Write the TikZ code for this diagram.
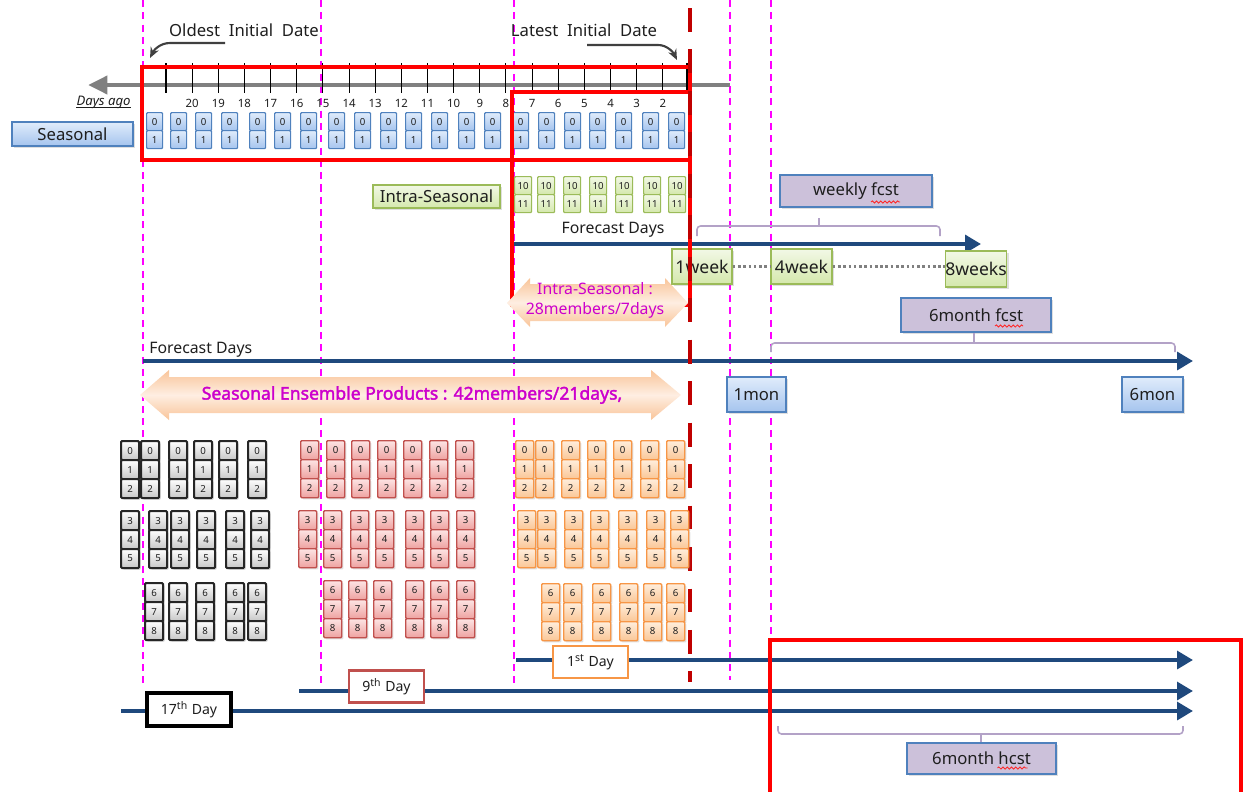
\documentclass[tikz,border=0pt]{standalone}
\usepackage{fontspec}
\setmainfont{Noto Sans}
\newfontfamily\ensfont{Noto Sans}[FakeBold=2]
\usetikzlibrary{arrows.meta,shadows,decorations.pathmorphing}
\definecolor{pinkdash}{RGB}{255,0,255}
\definecolor{drred}{RGB}{192,0,0}
\definecolor{fblue}{RGB}{31,73,125}
\definecolor{axgray}{RGB}{128,128,128}
\definecolor{bxblue}{RGB}{79,129,189}
\definecolor{btop}{RGB}{224,236,251}
\definecolor{bbot}{RGB}{165,196,238}
\definecolor{gborder}{RGB}{155,187,89}
\definecolor{gtop}{RGB}{242,248,230}
\definecolor{gbot}{RGB}{212,232,172}
\definecolor{lav}{RGB}{204,193,218}
\definecolor{brc}{RGB}{179,162,199}
\definecolor{peach}{RGB}{249,196,152}
\definecolor{peachl}{RGB}{254,238,226}
\definecolor{mag}{RGB}{204,0,204}
\definecolor{rcborder}{RGB}{192,80,77}
\definecolor{rctop}{RGB}{253,228,228}
\definecolor{rcbot}{RGB}{238,162,160}
\definecolor{ocborder}{RGB}{247,150,70}
\definecolor{octop}{RGB}{255,238,220}
\definecolor{ocbot}{RGB}{250,198,150}
\definecolor{txt}{RGB}{30,30,30}
\newlength{\px}\setlength{\px}{0.02cm}
\tikzset{
 lbl/.style={inner sep=0pt, text=txt, font=\fontsize{9.5}{11}\selectfont},
 shad/.style={drop shadow={opacity=0.25, shadow xshift=1pt, shadow yshift=-1pt}},
 bluebox/.style={lbl, draw=bxblue, line width=0.8pt, top color=btop, bottom color=bbot, shad},
 grnbox/.style={lbl, draw=gborder, line width=0.8pt, top color=gtop, bottom color=gbot, shad},
 lavbox/.style={lbl, draw=bxblue, line width=0.8pt, fill=lav, shad},
 daybox/.style={lbl, fill=white, line width=1.6pt, font=\fontsize{8}{9}\selectfont, minimum width=75\px, minimum height=32\px},
 cellbase/.style={inner sep=0pt, minimum width=18\px, minimum height=19\px, font=\fontsize{5.5}{6}\selectfont, text=txt, rounded corners=0.6pt},
 scell/.style={cellbase, minimum width=16\px, minimum height=18\px, draw=bxblue, line width=0.7pt, top color=btop, bottom color=bbot},
 icell/.style={cellbase, minimum width=17\px, minimum height=18\px, draw=gborder, line width=0.7pt, top color=gtop, bottom color=gbot},
 kcell/.style={cellbase, draw=black!85, line width=1.2pt, top color=white, bottom color=black!22, shad},
 rcell/.style={cellbase, draw=rcborder, line width=0.8pt, top color=rctop, bottom color=rcbot, shad},
 ocell/.style={cellbase, draw=ocborder, line width=0.8pt, top color=octop, bottom color=ocbot, shad},
 guide/.style={pinkdash, line width=0.8pt, dash pattern=on 4pt off 3pt},
 redbox/.style={red, line width=2.2pt},
 drdash/.style={drred, line width=2.3pt, dash pattern=on 13.6pt off 10pt},
 fcarrow/.style={fblue, line width=2.8pt, -{Triangle[length=9pt,width=10pt]}},
 axarrow/.style={axgray, line width=2.8pt, -{Triangle[length=11pt,width=10pt]}},
 brk/.style={brc, line width=0.9pt, rounded corners=2pt},
 tickln/.style={black, line width=0.6pt},
 dotln/.style={axgray, line width=2pt, dash pattern=on 1.5pt off 1.5pt},
 initarr/.style={black!75, line width=1.2pt, -{Stealth[length=6pt,width=5pt]}},
 arrtext/.style={inner sep=0pt, text=mag},
 wavy/.style={red!85, line width=0.5pt, decorate, decoration={snake, amplitude=0.6pt, segment length=2.4pt}},
}
\begin{document}
\begin{tikzpicture}[x=0.02cm,y=-0.02cm]
\useasboundingbox (0,0) rectangle (1246,791);
% guide lines
\draw[guide] (143,0) -- (143,683);
\draw[guide] (321,0) -- (321,683);
\draw[guide] (514,0) -- (514,683);
\draw[guide] (730,0) -- (730,680);
\draw[guide] (771,0) -- (771,640);
% axis
\coordinate (ax0) at (730,85);
\coordinate (ax1) at (88,85);
\draw[axarrow] (ax0) -- (ax1);
\foreach \k in {0,...,19}{
  \pgfmathsetmacro\tx{166+26.15*\k}
  \draw[tickln] (\tx,63) -- (\tx,93);
}
\foreach \k in {1,...,19}{
  \pgfmathsetmacro\tx{166+26.15*\k}
  \pgfmathtruncatemacro\lab{21-\k}
  \node[lbl, font=\fontsize{6.5}{7}\selectfont] (dn\k) at (\tx,103) {\lab};
}
\draw[black, line width=1.8pt] (688,63) -- (688,90);
\node[lbl, anchor=east, font=\itshape\fontsize{7.5}{8}\selectfont] (dago) at (131,102) {Days ago};
\draw[txt, line width=0.5pt] ([yshift=-1.2pt]dago.base west) -- ([yshift=-1.2pt]dago.base east);
% seasonal cells
\foreach \x [count=\i] in {146,170,195,221,249,274,300,328,354,380,405,431,458,484,512,538,564,589,615,642,668}{
  \node[scell, anchor=north west] (sz\i) at (\x,112) {0};
  \node[scell, anchor=north west] (so\i) at (\x,130) {1};
}
\node[bluebox, minimum width=121\px, minimum height=24\px] (seas) at (72.5,134) {Seasonal};
% intra cells
\foreach \x [count=\i] in {514,537,563,589,615,643,668}{
  \node[icell, anchor=north west] (iz\i) at (\x,176) {10};
  \node[icell, anchor=north west] (io\i) at (\x,194) {11};
}
\node[grnbox, minimum width=127\px, minimum height=23\px] (intra) at (436.5,196.5) {Intra-Seasonal};
\node[lbl, font=\fontsize{9}{10}\selectfont] (fd1) at (613,230) {Forecast Days};
\coordinate (ia0) at (512,244);
\coordinate (ia1) at (981,244);
\draw[fcarrow] (ia0) -- (ia1);
% weekly
\node[lavbox, minimum width=152\px, minimum height=32\px] (wk) at (856,191) {weekly fcst};
\draw[wavy] ([shift={(15,11)}]wk.center) -- ([shift={(44,11)}]wk.center);
\draw[brk] (697,236) |- (940,226) -- (940,236);
\draw[brk] (819,226) -- (819,218);
\node[grnbox, font=\fontsize{10}{11}\selectfont, minimum width=60\px, minimum height=35\px] (w1) at (702,266.5) {1week};
\node[grnbox, font=\fontsize{10}{11}\selectfont, minimum width=61\px, minimum height=35\px] (w4) at (801.5,266.5) {4week};
\node[grnbox, font=\fontsize{10}{11}\selectfont, minimum width=60\px, minimum height=36\px] (w8) at (976,269) {8weeks};
\draw[dotln] (w1.east) -- (w4.west);
\draw[dotln] (w4.east) -- (w8.west |- w4.east);
% 6 month fcst
\node[lavbox, minimum width=150\px, minimum height=34\px] (mf) at (976,315) {6month fcst};
\draw[wavy] ([shift={(19,11)}]mf.center) -- ([shift={(47,11)}]mf.center);
\draw[brk] (771,352) |- (1175,343) -- (1175,352);
\draw[brk] (974,343) -- (974,333);
\node[lbl, anchor=west, font=\fontsize{9}{10}\selectfont] (fd2) at (149,350) {Forecast Days};
\coordinate (sa0) at (143,361);
\coordinate (sa1) at (1193,361);
\draw[fcarrow] (sa0) -- (sa1);
\node[bluebox, minimum width=59\px, minimum height=35\px] (m1) at (756.5,394.5) {1mon};
\node[bluebox, minimum width=61\px, minimum height=35\px] (m6) at (1152.5,394.5) {6mon};
% red boxes
\draw[redbox] (142,67) rectangle (690,160);
\draw[redbox] (512,92) rectangle (690,305);
% peach arrows
\shade[top color=peach, bottom color=peach, middle color=peachl] (140,395) -- (169,370) -- (169,377) -- (651,377) -- (651,370) -- (681,395) -- (651,420) -- (651,413) -- (169,413) -- (169,420) -- cycle;
\node[arrtext, font=\ensfont\fontsize{10}{12}\selectfont] (ens) at (412,395) {Seasonal Ensemble Products : 42members/21days,};
\shade[top color=peach, bottom color=peach, middle color=peachl] (507,303) -- (530,278) -- (530,284) -- (665,284) -- (665,278) -- (688,303) -- (665,327) -- (665,321) -- (530,321) -- (530,327) -- cycle;
\node[arrtext, align=center, font=\fontsize{9}{11.5}\selectfont] (ins) at (595,300) {Intra-Seasonal :\\28members/7days};
% dark red dashed line
\draw[drdash] (690,8) -- (690,682);
% bottom cells: gray
\foreach \x [count=\i] in {120,140,168,193,218,247}{
  \node[kcell, anchor=north west] (ka\i) at (\x,440) {0};
  \node[kcell, anchor=north west] (kb\i) at (\x,459) {1};
  \node[kcell, anchor=north west] (kc\i) at (\x,478) {2};
}
\foreach \x [count=\i] in {120,148,170,196,225,250}{
  \node[kcell, anchor=north west] (kd\i) at (\x,510) {3};
  \node[kcell, anchor=north west] (ke\i) at (\x,529) {4};
  \node[kcell, anchor=north west] (kf\i) at (\x,548) {5};
}
\foreach \x [count=\i] in {144,168,195,225,247}{
  \node[kcell, anchor=north west] (kg\i) at (\x,582) {6};
  \node[kcell, anchor=north west] (kh\i) at (\x,601) {7};
  \node[kcell, anchor=north west] (ki\i) at (\x,620) {8};
}
% red cells
\foreach \x [count=\i] in {300,326,351,377,403,429,455}{
  \node[rcell, anchor=north west] (ra\i) at (\x,440) {0};
  \node[rcell, anchor=north west] (rb\i) at (\x,459) {1};
  \node[rcell, anchor=north west] (rc\i) at (\x,478) {2};
}
\foreach \x [count=\i] in {298,323,350,375,405,430,456}{
  \node[rcell, anchor=north west] (rd\i) at (\x,510) {3};
  \node[rcell, anchor=north west] (re\i) at (\x,529) {4};
  \node[rcell, anchor=north west] (rf\i) at (\x,548) {5};
}
\foreach \x [count=\i] in {323,348,373,405,430,456}{
  \node[rcell, anchor=north west] (rg\i) at (\x,580) {6};
  \node[rcell, anchor=north west] (rh\i) at (\x,599) {7};
  \node[rcell, anchor=north west] (ri\i) at (\x,618) {8};
}
% orange cells
\foreach \x [count=\i] in {515,535,561,587,613,640,666}{
  \node[ocell, anchor=north west] (oa\i) at (\x,440) {0};
  \node[ocell, anchor=north west] (ob\i) at (\x,459) {1};
  \node[ocell, anchor=north west] (oc\i) at (\x,478) {2};
}
\foreach \x [count=\i] in {517,537,564,590,618,646,670}{
  \node[ocell, anchor=north west] (od\i) at (\x,510) {3};
  \node[ocell, anchor=north west] (oe\i) at (\x,529) {4};
  \node[ocell, anchor=north west] (of\i) at (\x,548) {5};
}
\foreach \x [count=\i] in {541,563,592,619,643,666}{
  \node[ocell, anchor=north west] (og\i) at (\x,583) {6};
  \node[ocell, anchor=north west] (oh\i) at (\x,602) {7};
  \node[ocell, anchor=north west] (oi\i) at (\x,621) {8};
}
% bottom timelines
\coordinate (l1a) at (516,660); \coordinate (l1b) at (1193,660);
\coordinate (l9a) at (299,691); \coordinate (l9b) at (1193,691);
\coordinate (l17a) at (121,711); \coordinate (l17b) at (1193,711);
\draw[fcarrow] (l1a) -- (l1b);
\draw[fcarrow] (l9a) -- (l9b);
\draw[fcarrow] (l17a) -- (l17b);
\node[daybox, draw=ocborder] (d1) at (590.5,662) {1\textsuperscript{st} Day};
\node[daybox, draw=rcborder] (d9) at (386.5,686.5) {9\textsuperscript{th} Day};
\node[daybox, draw=black, line width=2pt, minimum width=84\px, minimum height=33\px] (d17) at (189,709.5) {17\textsuperscript{th} Day};
\draw[redbox] (770,792) -- (770,640) -- (1241,640) -- (1241,792);
\draw[brk] (778,726) |- (1183,734) -- (1183,726);
\draw[brk] (981,734) -- (981,743);
\node[lavbox, minimum width=149\px, minimum height=31\px] (mh) at (981.5,758.5) {6month hcst};
\draw[wavy] ([shift={(16,9.5)}]mh.center) -- ([shift={(46,9.5)}]mh.center);
% initial dates
\node[lbl, font=\fontsize{9.5}{12}\selectfont] (old) at (244,30) {Oldest\ \ Initial\ \ Date};
\node[lbl, font=\fontsize{9.5}{12}\selectfont] (lat) at (584,30) {Latest\ \ Initial\ \ Date};
\coordinate (oa) at (225,43); \coordinate (ob) at (150,58);
\draw[initarr] (oa) -- (170,43) .. controls (160,43) and (154,50) .. (ob);
\coordinate (la) at (587,45); \coordinate (lb) at (677,60);
\draw[initarr] (la) -- (658,45) .. controls (667,45) and (673,52) .. (lb);
\end{tikzpicture}
\end{document}
